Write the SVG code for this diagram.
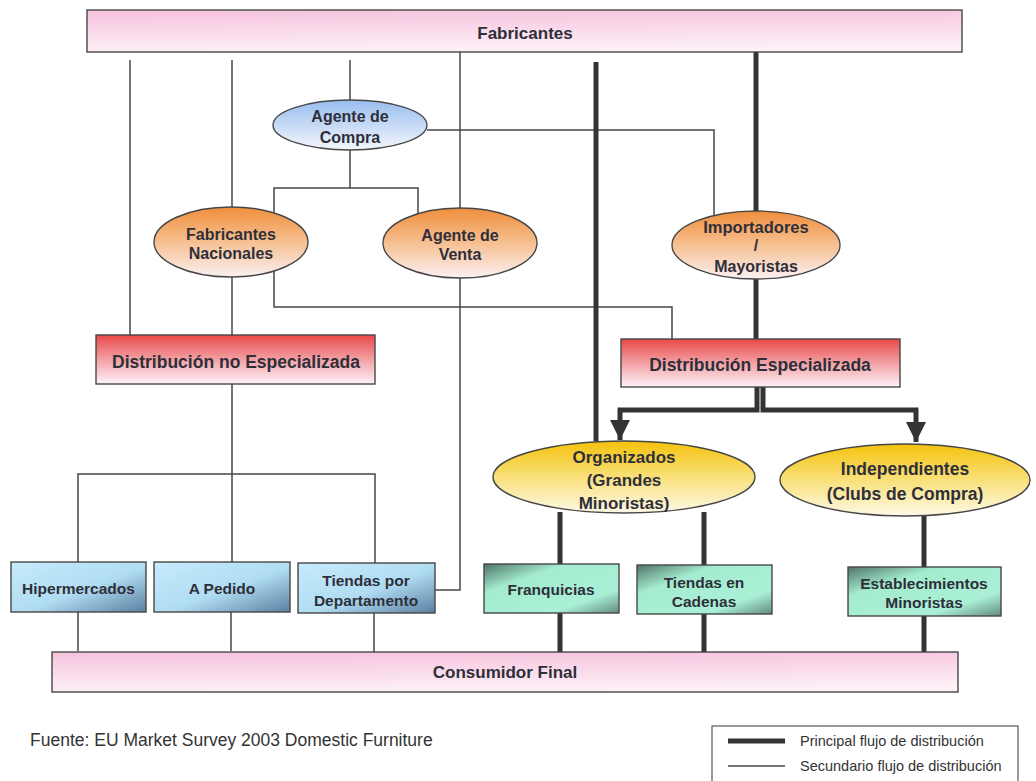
<svg xmlns="http://www.w3.org/2000/svg" width="1036" height="781" viewBox="0 0 1036 781">
<defs>
<linearGradient id="gPink" x1="0" y1="0" x2="0.15" y2="1"><stop offset="0" stop-color="#f6c2dc"/><stop offset="1" stop-color="#fdf0f7"/></linearGradient>
<linearGradient id="gRed" x1="0" y1="0" x2="0" y2="1"><stop offset="0" stop-color="#e94848"/><stop offset="0.5" stop-color="#f3a0a4"/><stop offset="1" stop-color="#fdf2f9"/></linearGradient>
<linearGradient id="gBlueE" x1="0" y1="0" x2="0" y2="1"><stop offset="0" stop-color="#98bdee"/><stop offset="1" stop-color="#f4f6fc"/></linearGradient>
<linearGradient id="gOrange" x1="0" y1="0" x2="0" y2="1"><stop offset="0" stop-color="#ef8e3c"/><stop offset="0.45" stop-color="#f6bb88"/><stop offset="1" stop-color="#fbf0f2"/></linearGradient>
<linearGradient id="gYellow" x1="0" y1="0" x2="0" y2="1"><stop offset="0" stop-color="#f4c20c"/><stop offset="0.5" stop-color="#f9e07a"/><stop offset="1" stop-color="#fdf9e6"/></linearGradient>
<linearGradient id="gBlueBox" x1="0" y1="0" x2="1" y2="1"><stop offset="0" stop-color="#c6ebfc"/><stop offset="0.55" stop-color="#b0dcf2"/><stop offset="1" stop-color="#5a80a0"/></linearGradient>
<linearGradient id="gGreenBox" x1="0" y1="0" x2="1" y2="1"><stop offset="0" stop-color="#4f7466"/><stop offset="0.3" stop-color="#a4ecd0"/><stop offset="0.75" stop-color="#aaf0d6"/><stop offset="1" stop-color="#628c7c"/></linearGradient>
<marker id="arrow" markerUnits="userSpaceOnUse" markerWidth="22" markerHeight="20" refX="20" refY="10" orient="auto" viewBox="0 0 22 20">
<path d="M0,0 L20,10 L0,20 Z" fill="#333"/>
</marker>
</defs>
<style>
.thin{fill:none;stroke:#474747;stroke-width:1.5}
.thick{fill:none;stroke:#333;stroke-width:5}
.node{stroke:#474747;stroke-width:1.4}
.lbl{font-family:"Liberation Sans",Arial,sans-serif;font-weight:bold;fill:#2f2f3a;text-anchor:middle}
.note{font-family:"Liberation Sans",Arial,sans-serif;fill:#333}
</style>
<rect width="1036" height="781" fill="#ffffff"/>

<g id="connectors">
<path class="thin" d="M130,60 V335"/>
<path class="thin" d="M232,60 V208"/>
<path class="thin" d="M232,277 V335"/>
<path class="thin" d="M350,60 V100"/>
<path class="thin" d="M350,150 V188 M274,214 V188 H418 V215"/>
<path class="thin" d="M427,130 H714 V215"/>
<path class="thin" d="M460,52 V208"/>
<path class="thin" d="M460,278 V590 H435"/>
<path class="thin" d="M274,270 V307 H672 V339"/>
<path class="thin" d="M232,384 V474 M78,562 V474 H375 V563 M232,474 V562"/>
<path class="thin" d="M78,612 V651 M231,612 V651 M374,613 V652"/>
<path class="thick" d="M596,62 V441"/>
<path class="thick" d="M756,52 V211"/>
<path class="thick" d="M756,279 V339"/>
<path class="thick" d="M757,387 V410 H620 V440" marker-end="url(#arrow)"/>
<path class="thick" d="M763,387 V410 H916 V442" marker-end="url(#arrow)"/>
<path class="thick" d="M560,512 V564 M560,613 V653"/>
<path class="thick" d="M704,512 V565 M704,614 V655"/>
<path class="thick" d="M924,516 V567 M924,616 V655"/>
</g>

<g id="fabricantes">
<rect class="node" x="87" y="10" width="875" height="42" fill="url(#gPink)"/>
<text class="lbl" x="525" y="39" font-size="17">Fabricantes</text>
</g>

<g id="agente-compra">
<ellipse class="node" cx="350" cy="125" rx="77" ry="25" fill="url(#gBlueE)"/>
<text class="lbl" x="350" y="121.5" font-size="16">Agente de</text>
<text class="lbl" x="350" y="142.5" font-size="16">Compra</text>
</g>

<g id="fabricantes-nacionales">
<ellipse class="node" cx="231" cy="242" rx="77" ry="35" fill="url(#gOrange)"/>
<text class="lbl" x="231" y="239.5" font-size="16">Fabricantes</text>
<text class="lbl" x="231" y="258.5" font-size="16">Nacionales</text>
</g>

<g id="agente-venta">
<ellipse class="node" cx="460" cy="243" rx="77" ry="35" fill="url(#gOrange)"/>
<text class="lbl" x="460" y="240.5" font-size="16">Agente de</text>
<text class="lbl" x="460" y="259.5" font-size="16">Venta</text>
</g>

<g id="importadores">
<ellipse class="node" cx="756" cy="245" rx="84" ry="34" fill="url(#gOrange)"/>
<text class="lbl" x="756" y="233" font-size="16.5">Importadores</text>
<text class="lbl" x="756" y="251" font-size="16">/</text>
<text class="lbl" x="756" y="272" font-size="16">Mayoristas</text>
</g>

<g id="dist-no-especializada">
<rect class="node" x="96" y="335" width="279" height="49" fill="url(#gRed)"/>
<text class="lbl" x="236" y="368" font-size="17.5">Distribución no Especializada</text>
</g>

<g id="dist-especializada">
<rect class="node" x="621" y="339" width="279" height="48" fill="url(#gRed)"/>
<text class="lbl" x="760" y="371" font-size="17.5">Distribución Especializada</text>
</g>

<g id="organizados">
<ellipse class="node" cx="624" cy="477" rx="131" ry="36" fill="url(#gYellow)"/>
<text class="lbl" x="624" y="463" font-size="17">Organizados</text>
<text class="lbl" x="624" y="486" font-size="17">(Grandes</text>
<text class="lbl" x="624" y="509" font-size="17">Minoristas)</text>
</g>

<g id="independientes">
<ellipse class="node" cx="905" cy="480" rx="125" ry="36" fill="url(#gYellow)"/>
<text class="lbl" x="905" y="475" font-size="17.5">Independientes</text>
<text class="lbl" x="905" y="500" font-size="17.5">(Clubs de Compra)</text>
</g>

<g id="hipermercados">
<rect class="node" x="11" y="562" width="135" height="50" fill="url(#gBlueBox)"/>
<text class="lbl" x="78.5" y="593.5" font-size="15.5">Hipermercados</text>
</g>

<g id="a-pedido">
<rect class="node" x="154" y="562" width="136" height="50" fill="url(#gBlueBox)"/>
<text class="lbl" x="222" y="593.5" font-size="15.5">A Pedido</text>
</g>

<g id="tiendas-departamento">
<rect class="node" x="298" y="563" width="137" height="50" fill="url(#gBlueBox)"/>
<text class="lbl" x="366" y="585.5" font-size="15.5">Tiendas por</text>
<text class="lbl" x="366" y="605.5" font-size="15.5">Departamento</text>
</g>

<g id="franquicias">
<rect class="node" x="484" y="564" width="135" height="49" fill="url(#gGreenBox)"/>
<text class="lbl" x="551" y="594.5" font-size="15.5">Franquicias</text>
</g>

<g id="tiendas-cadenas">
<rect class="node" x="637" y="565" width="135" height="49" fill="url(#gGreenBox)"/>
<text class="lbl" x="704" y="587.5" font-size="15.5">Tiendas en</text>
<text class="lbl" x="704" y="606.5" font-size="15.5">Cadenas</text>
</g>

<g id="establecimientos">
<rect class="node" x="848" y="567" width="153" height="49" fill="url(#gGreenBox)"/>
<text class="lbl" x="924" y="588.5" font-size="15.5">Establecimientos</text>
<text class="lbl" x="924" y="607.5" font-size="15.5">Minoristas</text>
</g>

<g id="consumidor-final">
<rect class="node" x="52" y="652" width="906" height="40" fill="url(#gPink)"/>
<text class="lbl" x="505" y="678" font-size="17">Consumidor Final</text>
</g>

<g id="fuente">
<text class="note" x="30" y="746" font-size="17.5">Fuente: EU Market Survey 2003  Domestic Furniture</text>
</g>

<g id="legend">
<rect x="712" y="726" width="306" height="64" fill="#fff" stroke="#555" stroke-width="1.2"/>
<line x1="728" y1="741" x2="785" y2="741" stroke="#333" stroke-width="5"/>
<line x1="728" y1="766" x2="785" y2="766" stroke="#474747" stroke-width="1.5"/>
<text class="note" x="800" y="746" font-size="14.5">Principal flujo de distribución</text>
<text class="note" x="800" y="771" font-size="14.5">Secundario flujo de distribución</text>
</g>
</svg>
